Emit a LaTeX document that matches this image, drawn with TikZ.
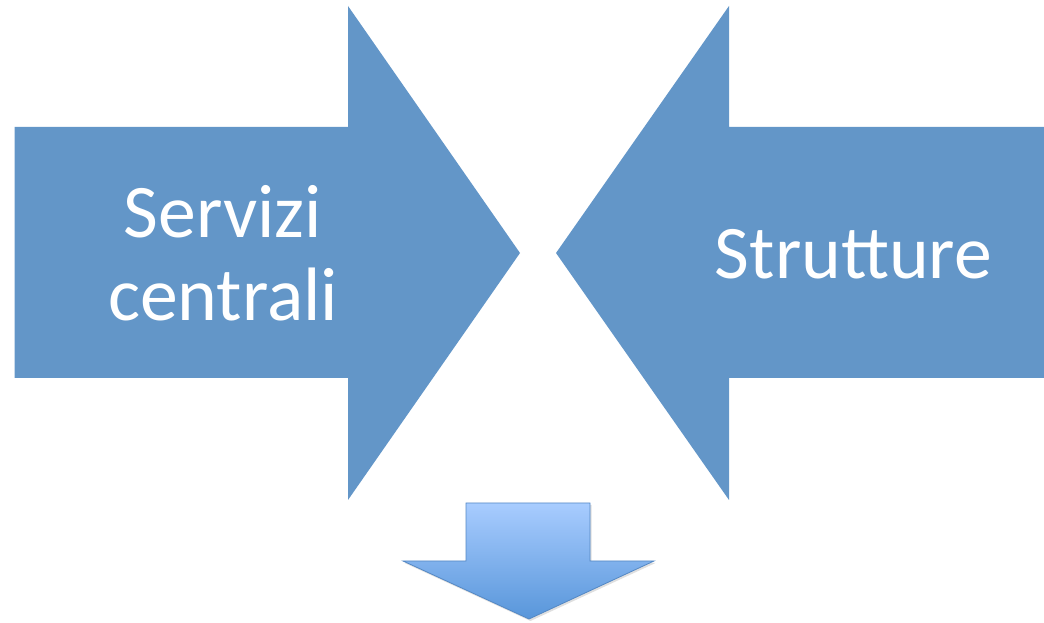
\documentclass[tikz,border=0pt]{standalone}
\usepackage{fontspec}
\setmainfont{Carlito}
\usepackage{tikz}
\usetikzlibrary{shadows}

\definecolor{arrowblue}{RGB}{99,150,200}
\definecolor{downtop}{RGB}{168,204,255}
\definecolor{downbot}{RGB}{88,150,218}
\definecolor{downedge}{RGB}{84,136,196}

\tikzset{
  bigarrow/.style={fill=arrowblue,draw=none},
  downarrow/.style={top color=downtop,bottom color=downbot,draw=downedge,line width=0.8bp,line join=miter,
    drop shadow={shadow xshift=1.5bp,shadow yshift=-2bp,opacity=0.25}},
  label/.style={text=white,font=\fontsize{76}{83}\selectfont,anchor=base,inner sep=0pt}
}

\begin{document}
\begin{tikzpicture}[x=1bp,y=1bp,line join=bevel,]
\useasboundingbox (0,0) rectangle (1044,623);
%%
\fill [bigarrow] (14.5,496) -- (348,496) -- (348,617) -- (520,370) -- (348,123) -- (348,245) -- (14.5,245) -- cycle;
\fill [bigarrow] (1044,496) -- (729,496) -- (729,617) -- (556,370) -- (729,123) -- (729,245) -- (1044,245) -- cycle;
\path [downarrow] (466,120) -- (590,120) -- (590,62) -- (654,62) -- (529,4) -- (403,62) -- (466,62) -- cycle;
%
\node (node_0) at (223bp,385bp) [label] {Servizi};
  \node (node_1) at (223bp,302bp) [label] {centrali};
  \node (node_2) at (853.5bp,344bp) [label] {Strutture};
%
\end{tikzpicture}
\end{document}
